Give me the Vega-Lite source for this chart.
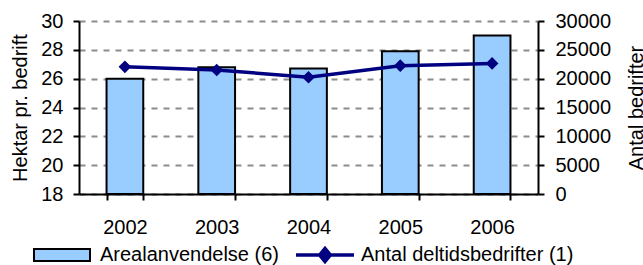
{
  "$schema": "https://vega.github.io/schema/vega-lite/v6.json",
  "autosize": "none",
  "width": 459,
  "height": 173,
  "padding": {"left": 79, "top": 21, "right": 105, "bottom": 71},
  "background": "white",
  "config": {
    "font": "Liberation Sans",
    "view": {"stroke": null},
    "axis": {
      "labelFont": "Liberation Sans",
      "labelFontSize": 20,
      "labelColor": "black",
      "titleFont": "Liberation Sans",
      "titleFontSize": 20,
      "titleFontWeight": "normal",
      "titleColor": "black",
      "domainColor": "black",
      "domainWidth": 2,
      "tickColor": "black",
      "tickWidth": 2,
      "tickSize": 6
    },
    "legend": {
      "labelFont": "Liberation Sans",
      "labelFontSize": 20,
      "labelColor": "black",
      "labelLimit": 400
    }
  },
  "data": {
    "values": [
      {"year": "2002", "areal": 26.0, "antal": 22050},
      {"year": "2003", "areal": 26.8, "antal": 21500},
      {"year": "2004", "areal": 26.7, "antal": 20250},
      {"year": "2005", "areal": 27.9, "antal": 22250},
      {"year": "2006", "areal": 29.0, "antal": 22650}
    ]
  },
  "encoding": {
    "x": {
      "field": "year",
      "type": "nominal",
      "scale": {"paddingInner": 0.6, "paddingOuter": 0.3},
      "axis": {
        "title": null,
        "labelAngle": 0,
        "tickBand": "extent",
        "labelPadding": 17,
        "grid": false
      }
    }
  },
  "layer": [
    {
      "mark": {"type": "bar", "stroke": "black", "strokeWidth": 2},
      "encoding": {
        "y": {
          "field": "areal",
          "type": "quantitative",
          "scale": {"domain": [18, 30], "nice": false, "zero": false},
          "axis": {
            "title": "Hektar pr. bedrift",
            "values": [18, 20, 22, 24, 26, 28, 30],
            "labelPadding": 10,
            "titlePadding": 10,
            "grid": true,
            "gridColor": "#8c8c8c",
            "gridWidth": 2,
            "gridDash": [6, 6]
          }
        },
        "y2": {"datum": 18},
        "color": {
          "datum": "Arealanvendelse (6)",
          "scale": {
            "domain": ["Arealanvendelse (6)"],
            "range": ["#99CCFF"]
          },
          "legend": {
            "title": null,
            "orient": "none",
            "legendX": -49,
            "legendY": 224,
            "direction": "horizontal",
            "symbolSize": 144,
            "symbolOffset": 22,
            "labelOffset": 28,
            "symbolType": "M-4.667,-1H4.667V1H-4.667Z",
            "symbolFillColor": "#99CCFF",
            "symbolStrokeColor": "black",
            "symbolStrokeWidth": 2,
            "symbolOpacity": 1
          }
        }
      }
    },
    {
      "mark": {
        "type": "line",
        "strokeWidth": 3.5,
        "point": {"shape": "diamond", "size": 160, "filled": true, "opacity": 1}
      },
      "encoding": {
        "y": {
          "field": "antal",
          "type": "quantitative",
          "scale": {"domain": [0, 30000], "nice": false},
          "axis": {
            "orient": "right",
            "title": "Antal bedrifter",
            "titleAngle": 270,
            "titleBaseline": "top",
            "values": [0, 5000, 10000, 15000, 20000, 25000, 30000],
            "format": "d",
            "labelPadding": 11,
            "titlePadding": 16,
            "grid": false
          }
        },
        "color": {
          "datum": "Antal deltidsbedrifter (1)",
          "scale": {
            "domain": ["Antal deltidsbedrifter (1)"],
            "range": ["#000080"]
          },
          "legend": {
            "title": null,
            "orient": "none",
            "legendX": 213,
            "legendY": 224,
            "direction": "horizontal",
            "symbolSize": 144,
            "symbolOffset": 23,
            "labelOffset": 26,
            "symbolType": "M-4.83,0H4.83M-0.9,0L0,-1.1L0.9,0L0,1.1Z",
            "symbolFillColor": "#000080",
            "symbolStrokeColor": "#000080",
            "symbolStrokeWidth": 3.5,
            "symbolOpacity": 1
          }
        }
      }
    }
  ],
  "resolve": {"scale": {"y": "independent", "color": "independent"}}
}
